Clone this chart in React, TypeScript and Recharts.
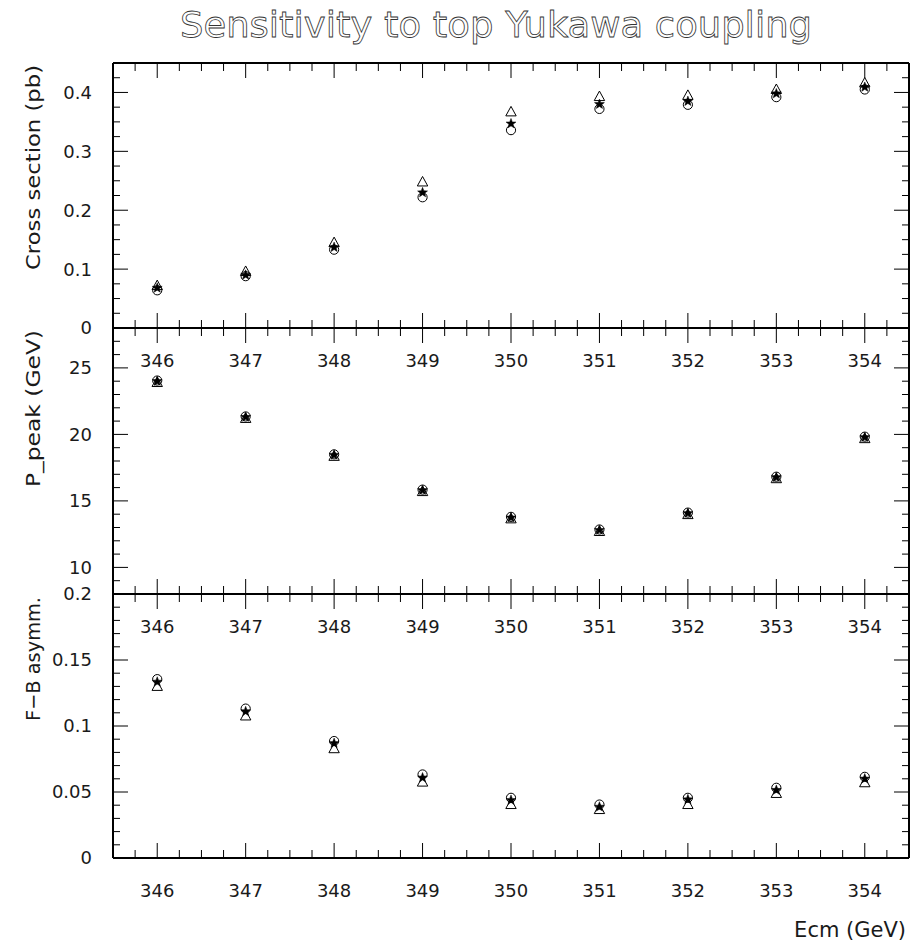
import React from 'react';
import { ScatterChart, Scatter, XAxis, YAxis } from 'recharts';

const W = 921;
const H = 942;
const LEFT = 113;
const RIGHT = 909;
const FONT = '"DejaVu Sans", Verdana, sans-serif';
const TEXT = '#1a1a1a';

// ---- data ----
const energies = [346, 347, 348, 349, 350, 351, 352, 353, 354];

const xsecTriangle = [0.072, 0.096, 0.145, 0.248, 0.367, 0.393, 0.395, 0.405, 0.416];
const xsecStar = [0.068, 0.090, 0.137, 0.230, 0.347, 0.380, 0.385, 0.398, 0.409];
const xsecCircle = [0.064, 0.088, 0.133, 0.222, 0.336, 0.372, 0.379, 0.392, 0.405];

const ppeakTriangle = [23.9, 21.2, 18.35, 15.7, 13.65, 12.7, 13.97, 16.67, 19.68];
const ppeakStar = [24.0, 21.3, 18.45, 15.8, 13.74, 12.8, 14.07, 16.77, 19.78];
const ppeakCircle = [24.05, 21.35, 18.5, 15.85, 13.8, 12.85, 14.12, 16.82, 19.83];

const afbTriangle = [0.130, 0.1076, 0.0828, 0.0575, 0.0405, 0.0367, 0.0405, 0.0489, 0.057];
const afbStar = [0.1334, 0.111, 0.0869, 0.0608, 0.0438, 0.0387, 0.0443, 0.0514, 0.060];
const afbCircle = [0.1355, 0.1132, 0.0886, 0.0633, 0.0456, 0.0405, 0.0456, 0.0532, 0.0615];

// ---- ticks ----
const xMajor = [346, 347, 348, 349, 350, 351, 352, 353, 354];
const xTicksRaw: number[] = [];
[345, ...xMajor].forEach((m) => {
  [0.5, 0.75, 1, 1.25].forEach((o) => {
    const v = m + o;
    if (v > 345.5 && v < 354.5) xTicksRaw.push(v);
  });
});
const xTicks = Array.from(new Set(xTicksRaw)).sort((a, b) => a - b);

const xsecMajor = [0, 0.1, 0.2, 0.3, 0.4];
const xsecMinorStep = 0.025;
const ppeakMajor = [10, 15, 20, 25];
const ppeakMinorStep = 1;
const afbMajor = [0, 0.05, 0.1, 0.15, 0.2];
const afbMinorStep = 0.01;

const buildTicks = (lo: number, hi: number, step: number) => {
  const out: number[] = [];
  const n = Math.round((hi - lo) / step);
  for (let i = 0; i <= n; i++) out.push(+(lo + i * step).toFixed(6));
  return out;
};

const toPoints = (ys: number[]) => energies.map((x, i) => ({ x, y: ys[i] }));

// ---- markers ----
const TriangleMarker = (p: any) => {
  const { cx, cy } = p;
  if (cx == null || cy == null) return null;
  return (
    <path
      d={`M${cx},${cy - 5.5} L${cx + 5.2},${cy + 4} L${cx - 5.2},${cy + 4} Z`}
      fill="none"
      stroke="#000"
      strokeWidth={1}
    />
  );
};
const CircleMarker = (p: any) => {
  const { cx, cy } = p;
  if (cx == null || cy == null) return null;
  return <circle cx={cx} cy={cy} r={4.6} fill="none" stroke="#000" strokeWidth={1} />;
};
const StarMarker = (p: any) => {
  const { cx, cy } = p;
  if (cx == null || cy == null) return null;
  const pts: string[] = [];
  for (let i = 0; i < 10; i++) {
    const r = i % 2 === 0 ? 5.2 : 2.2;
    const a = -Math.PI / 2 + (i * Math.PI) / 5;
    pts.push(`${cx + r * Math.cos(a)},${cy + r * Math.sin(a)}`);
  }
  return <polygon points={pts.join(' ')} fill="#000" stroke="#000" strokeWidth={0.5} />;
};

// ---- tick renderers ----
const frameLine = { stroke: '#000', strokeWidth: 2 };

const makeXTick = (side: 'bottom' | 'top') => (props: any) => {
  const { x, y, payload } = props;
  const v = payload.value;
  const major = Number.isInteger(v);
  const len = major ? 15 : 8;
  const dir = side === 'bottom' ? -1 : 1;
  return (
    <g>
      <line x1={x} x2={x} y1={y} y2={y + dir * len} stroke="#000" strokeWidth={1} />
      {side === 'bottom' && major ? (
        <text x={x} y={y + 33} dy="0.36em" textAnchor="middle" fontFamily={FONT} fontSize={18} fill={TEXT}>
          {v}
        </text>
      ) : null}
    </g>
  );
};

const isMajor = (v: number, majors: number[]) => majors.some((m) => Math.abs(m - v) < 1e-6);

const makeYTick = (side: 'left' | 'right', majors: number[]) => (props: any) => {
  const { x, y, payload } = props;
  const v = payload.value;
  const major = isMajor(v, majors);
  const len = major ? 15 : 7;
  const dir = side === 'left' ? 1 : -1;
  return (
    <g>
      <line x1={x} x2={x + dir * len} y1={y} y2={y} stroke="#000" strokeWidth={1} />
      {side === 'left' && major ? (
        <text x={x - 21} y={y} dy="0.36em" textAnchor="end" fontFamily={FONT} fontSize={18} fill={TEXT}>
          {String(+v.toFixed(4))}
        </text>
      ) : null}
    </g>
  );
};

type PanelProps = {
  top: number;
  bottom: number;
  domain: [number, number];
  ticks: number[];
  majors: number[];
  tri: number[];
  star: number[];
  circ: number[];
};

function Panel({ top, bottom, domain, ticks, majors, tri, star, circ }: PanelProps) {
  return (
    <div style={{ position: 'absolute', left: 0, top: 0 }}>
      <ScatterChart
        width={W}
        height={H}
        margin={{ top: top - 1, bottom: H - bottom - 1, left: LEFT - 1, right: W - RIGHT - 1 }}
      >
        <XAxis
          xAxisId="b"
          type="number"
          dataKey="x"
          domain={[345.5, 354.5]}
          ticks={xTicks}
          interval={0}
          tickSize={0}
          tickMargin={0}
          height={1}
          axisLine={frameLine}
          tickLine={false}
          tick={makeXTick('bottom')}
          allowDataOverflow
        />
        <XAxis
          xAxisId="t"
          orientation="top"
          type="number"
          dataKey="x"
          domain={[345.5, 354.5]}
          ticks={xTicks}
          interval={0}
          tickSize={0}
          tickMargin={0}
          height={1}
          axisLine={frameLine}
          tickLine={false}
          tick={makeXTick('top')}
          allowDataOverflow
        />
        <YAxis
          yAxisId="l"
          type="number"
          dataKey="y"
          domain={domain}
          ticks={ticks}
          interval={0}
          tickSize={0}
          tickMargin={0}
          width={1}
          axisLine={frameLine}
          tickLine={false}
          tick={makeYTick('left', majors)}
          allowDataOverflow
        />
        <YAxis
          yAxisId="r"
          orientation="right"
          type="number"
          dataKey="y"
          domain={domain}
          ticks={ticks}
          interval={0}
          tickSize={0}
          tickMargin={0}
          width={1}
          axisLine={frameLine}
          tickLine={false}
          tick={makeYTick('right', majors)}
          allowDataOverflow
        />
        <Scatter xAxisId="b" yAxisId="l" data={toPoints(circ)} shape={CircleMarker} isAnimationActive={false} />
        <Scatter xAxisId="b" yAxisId="l" data={toPoints(tri)} shape={TriangleMarker} isAnimationActive={false} />
        <Scatter xAxisId="b" yAxisId="l" data={toPoints(star)} shape={StarMarker} isAnimationActive={false} />
      </ScatterChart>
    </div>
  );
}

export default function App() {
  const p1Top = 63;
  const p1Bot = 328;
  const p2Bot = 594;
  const p3Bot = 858;
  return (
    <div style={{ position: 'absolute', left: 0, top: 0, width: W, height: H, background: '#fff' }}>
      <Panel
        top={p1Top}
        bottom={p1Bot}
        domain={[0, 0.45]}
        ticks={buildTicks(0, 0.45, xsecMinorStep)}
        majors={xsecMajor}
        tri={xsecTriangle}
        star={xsecStar}
        circ={xsecCircle}
      />
      <Panel
        top={p1Bot}
        bottom={p2Bot}
        domain={[8, 28]}
        ticks={buildTicks(8, 28, ppeakMinorStep)}
        majors={ppeakMajor}
        tri={ppeakTriangle}
        star={ppeakStar}
        circ={ppeakCircle}
      />
      <Panel
        top={p2Bot}
        bottom={p3Bot}
        domain={[0, 0.2]}
        ticks={buildTicks(0, 0.2, afbMinorStep)}
        majors={afbMajor}
        tri={afbTriangle}
        star={afbStar}
        circ={afbCircle}
      />
      <svg width={W} height={H} style={{ position: 'absolute', left: 0, top: 0, pointerEvents: 'none' }}>
        <text
          x={180}
          y={37}
          textLength={632}
          lengthAdjust="spacingAndGlyphs"
          fontFamily={FONT}
          fontSize={36}
          fill="#fff"
          stroke="#333"
          strokeWidth={0.8}
        >
          Sensitivity to top Yukawa coupling
        </text>
        <text
          transform={`translate(40, ${p1Top + 2}) rotate(-90)`}
          textAnchor="end"
          fontFamily={FONT}
          fontSize={20}
          fill={TEXT}
          textLength={205}
          lengthAdjust="spacingAndGlyphs"
        >
          Cross section (pb)
        </text>
        <text
          transform={`translate(40, ${p1Bot + 2}) rotate(-90)`}
          textAnchor="end"
          fontFamily={FONT}
          fontSize={20}
          fill={TEXT}
          textLength={157}
          lengthAdjust="spacingAndGlyphs"
        >
          P_peak (GeV)
        </text>
        <text
          transform={`translate(40, ${p2Bot + 3}) rotate(-90)`}
          textAnchor="end"
          fontFamily={FONT}
          fontSize={20}
          fill={TEXT}
          textLength={124}
          lengthAdjust="spacingAndGlyphs"
        >
          F−B asymm.
        </text>
        <text x={906} y={937} textAnchor="end" fontFamily={FONT} fontSize={21} fill={TEXT}>
          Ecm (GeV)
        </text>
      </svg>
    </div>
  );
}
